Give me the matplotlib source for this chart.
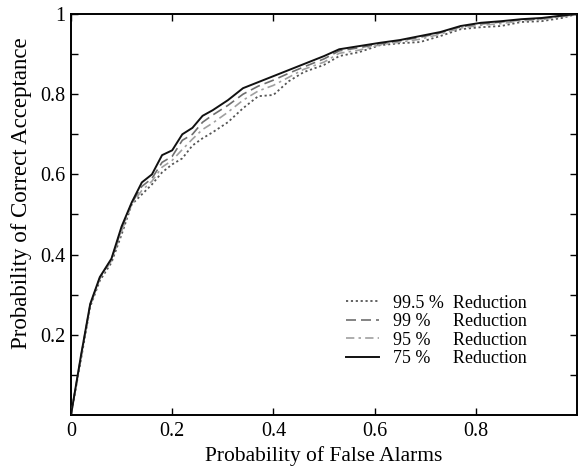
import numpy as np
import matplotlib
matplotlib.use('Agg')
import matplotlib.pyplot as plt
from matplotlib.ticker import MultipleLocator, FixedLocator

plt.rcParams['font.family'] = ['Liberation Serif', 'DejaVu Serif']

# Probability of false alarms (shared x grid)
p_fa = [0, 0.02, 0.038, 0.057, 0.08, 0.10, 0.12, 0.14, 0.16, 0.18, 0.20, 0.22, 0.24, 0.26,
        0.28, 0.31, 0.34, 0.37, 0.40, 0.43, 0.46, 0.50, 0.53, 0.57, 0.61, 0.65, 0.69, 0.73,
        0.77, 0.81, 0.85, 0.89, 0.93, 0.97, 1.0]

# Probability of correct acceptance per reduction level
pca_995 = [0, 0.14, 0.27, 0.335, 0.38, 0.45, 0.525, 0.55, 0.575, 0.605, 0.625, 0.64, 0.672, 0.69,
           0.705, 0.73, 0.765, 0.795, 0.798, 0.832, 0.855, 0.873, 0.895, 0.905, 0.922, 0.927, 0.93,
           0.945, 0.962, 0.967, 0.97, 0.98, 0.982, 0.99, 1.0]
pca_99 = [0, 0.148, 0.275, 0.342, 0.388, 0.465, 0.528, 0.57, 0.59, 0.63, 0.645, 0.685, 0.70, 0.73,
          0.748, 0.772, 0.80, 0.82, 0.835, 0.852, 0.868, 0.888, 0.908, 0.916, 0.925, 0.933, 0.942,
          0.953, 0.968, 0.975, 0.98, 0.985, 0.988, 0.995, 1.0]
pca_95 = [0, 0.145, 0.273, 0.34, 0.385, 0.458, 0.526, 0.56, 0.583, 0.618, 0.635, 0.662, 0.688, 0.712,
          0.728, 0.755, 0.785, 0.808, 0.822, 0.842, 0.862, 0.88, 0.902, 0.91, 0.923, 0.93, 0.937,
          0.95, 0.965, 0.972, 0.976, 0.983, 0.986, 0.993, 1.0]
pca_75 = [0, 0.15, 0.277, 0.344, 0.39, 0.47, 0.53, 0.58, 0.60, 0.648, 0.66, 0.70, 0.716, 0.746,
          0.76, 0.785, 0.815, 0.83, 0.845, 0.86, 0.875, 0.895, 0.912, 0.92, 0.928, 0.935, 0.945,
          0.955, 0.97, 0.978, 0.982, 0.987, 0.99, 0.996, 1.0]

labels = ['99.5 %  Reduction', '99 %     Reduction', '95 %     Reduction', '75 %     Reduction']

fig = plt.figure(figsize=(5.78, 4.66), dpi=100)
ax = fig.add_axes([0.1228, 0.1094, 0.8755, 0.8606])

ax.plot(p_fa, pca_995, linestyle=(0, (1.2, 1.5)), color='#555555', linewidth=1.3, label=labels[0], zorder=2)
ax.plot(p_fa, pca_99, linestyle=(0, (6, 3)), color='#6e6e6e', linewidth=1.2, label=labels[1], zorder=3)
ax.plot(p_fa, pca_95, linestyle=(0, (5, 2.5, 1.5, 2.5)), color='#a0a0a0', linewidth=1.2, label=labels[2], zorder=3)
ax.plot(p_fa, pca_75, linestyle='-', color='#111111', linewidth=1.4, label=labels[3], zorder=4)

ax.set_xlim(0, 1)
ax.set_ylim(0, 1)

ax.xaxis.set_major_locator(FixedLocator([0, 0.2, 0.4, 0.6, 0.8]))
ax.set_xticklabels(['0', '0.2', '0.4', '0.6', '0.8'])
ax.yaxis.set_major_locator(FixedLocator([0.2, 0.4, 0.6, 0.8, 1.0]))
ax.set_yticklabels(['0.2', '0.4', '0.6', '0.8', '1'])
ax.yaxis.set_minor_locator(FixedLocator([0.1, 0.3, 0.5, 0.7, 0.9]))

ax.tick_params(which='both', direction='in', length=5, width=1.0, top=True, right=True,
               labelsize=14.5)
ax.tick_params(axis='y', pad=4)
ax.tick_params(axis='x', pad=5)
for s in ax.spines.values():
    s.set_linewidth(1.4)

ax.set_xlabel('Probability of False Alarms', fontsize=15.5, labelpad=4)
ax.set_ylabel('Probability of Correct Acceptance', fontsize=16.5)
ax.yaxis.set_label_coords(-0.078, 0.553)

ax.legend(loc='upper left', bbox_to_anchor=(0.53, 0.318), frameon=False, fontsize=13,
          handlelength=1.8, labelspacing=0.08, borderaxespad=0, handletextpad=0.8)

fig.savefig('out.png', dpi=100)
